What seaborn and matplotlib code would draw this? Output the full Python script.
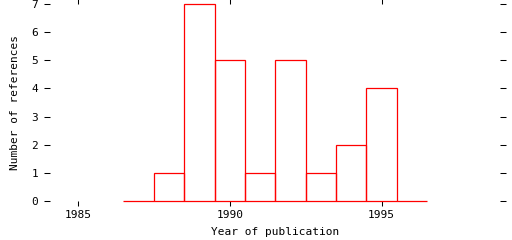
import numpy as np
import pandas as pd
import matplotlib
matplotlib.use("Agg")
import matplotlib.pyplot as plt
import seaborn as sns

years = [1987, 1988, 1989, 1990, 1991, 1992, 1993, 1994, 1995, 1996]
counts = [0, 1, 7, 5, 1, 5, 1, 2, 4, 0]
x_ticks = [1985, 1990, 1995]
y_ticks = [0, 1, 2, 3, 4, 5, 6, 7]

sns.set_style("white")
plt.rcParams['font.family'] = ['DejaVu Sans Mono']
plt.rcParams['text.color'] = 'black'
plt.rcParams['axes.labelcolor'] = 'black'

obs = pd.DataFrame({"year": np.repeat(years, counts)})
bin_edges = list(np.arange(min(years) - 0.5, max(years) + 1.0, 1.0))

fig = plt.figure(figsize=(5.12, 2.4), dpi=100)
ax = fig.add_axes([50/512, 1 - 201/240, 450/512, 197/240])
sns.histplot(data=obs, x="year", bins=bin_edges,
             element="bars", fill=False, color="#ff0000", linewidth=0.9, ax=ax)
for p in ax.patches:
    p.set_clip_on(False)

ax.set_xlim(1984.08, 1998.9)
ax.set_ylim(0, 7)
ax.set_xticks(x_ticks)
ax.set_yticks(y_ticks)
for s in ax.spines.values():
    s.set_visible(False)
ax.tick_params(axis="both", which="both", direction="out", width=0.75,
               color="black", labelcolor="black", labelsize=8,
               top=True, right=True, left=True, bottom=True,
               labeltop=False, labelright=False, labelleft=True, labelbottom=True)
ax.tick_params(axis="y", length=4.5, pad=4)
ax.tick_params(axis="x", length=3.5, pad=3)
ax.set_xlabel("Year of publication", fontsize=8, labelpad=5)
ax.set_ylabel("Number of references", fontsize=8, labelpad=8)

fig.savefig("out.png", dpi=100)
